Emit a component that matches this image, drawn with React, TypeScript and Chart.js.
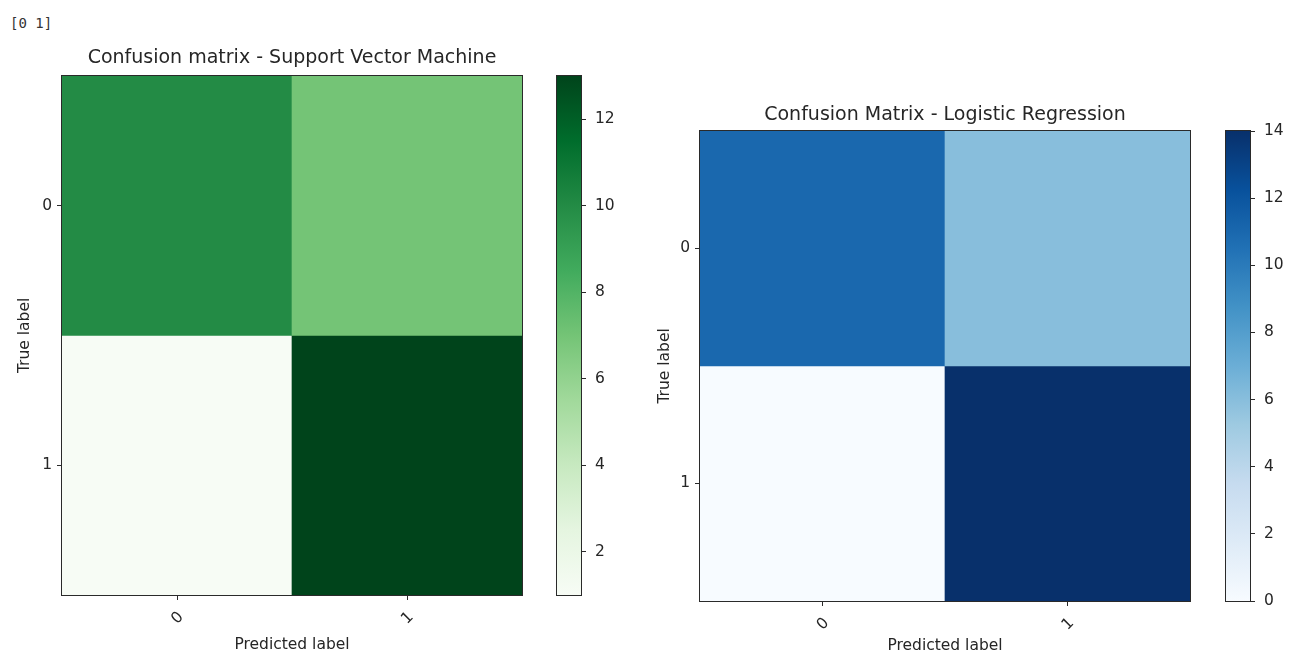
import React, { useEffect, useRef } from "react";
import { Chart, registerables } from "chart.js";

Chart.register(...registerables);
Chart.defaults.font.family = "'DejaVu Sans', sans-serif";

// ---------- data ----------
const predictedLabels = ["0", "1"];
const trueLabels = ["0", "1"];
const svmMatrix = [
  [10, 7],
  [1, 13],
];
const lrMatrix = [
  [11, 6],
  [0, 14],
];
const svmColorbarTicks = [2, 4, 6, 8, 10, 12];
const lrColorbarTicks = [0, 2, 4, 6, 8, 10, 12, 14];
const svmTitle = "Confusion matrix - Support Vector Machine";
const lrTitle = "Confusion Matrix - Logistic Regression";
const printedClasses = "[0 1]";

// ---------- colormaps ----------
const greens = ["#f7fcf5", "#e5f5e0", "#c7e9c0", "#a1d99b", "#74c476", "#41ab5d", "#238b45", "#006d2c", "#00441b"];
const blues = ["#f7fbff", "#deebf7", "#c6dbef", "#9ecae1", "#6baed6", "#4292c6", "#2171b5", "#08519c", "#08306b"];

const TEXT = "#262626";
const LINE = "#2a2a2a";

function hexToRgb(h: string) {
  const n = parseInt(h.slice(1), 16);
  return [(n >> 16) & 255, (n >> 8) & 255, n & 255];
}
function cmap(stops: string[], t: number) {
  const tt = Math.max(0, Math.min(1, t)) * (stops.length - 1);
  const i = Math.min(stops.length - 2, Math.floor(tt));
  const f = tt - i;
  const a = hexToRgb(stops[i]);
  const b = hexToRgb(stops[i + 1]);
  const c = a.map((v, k) => Math.round(v + (b[k] - v) * f));
  return `rgb(${c[0]},${c[1]},${c[2]})`;
}

const framePlugin = {
  id: "frame",
  afterDatasetsDraw(chart: any) {
    const a = chart.chartArea;
    const ctx = chart.ctx;
    ctx.save();
    ctx.strokeStyle = LINE;
    ctx.lineWidth = 1;
    ctx.strokeRect(Math.round(a.left) - 0.5, Math.round(a.top) - 0.5, Math.round(a.right - a.left) + 1, Math.round(a.bottom - a.top) + 1);
    ctx.restore();
  },
};

const tickFont = { size: 15.5 };

function matrixConfig(opts: {
  matrix: number[][];
  stops: string[];
  title: string;
  yWidth: number;
  xHeight: number;
  padRight: number;
  titlePadTop: number;
  titlePadBottom: number;
}): any {
  const flat = opts.matrix.flat();
  const vmin = Math.min(...flat);
  const vmax = Math.max(...flat);
  const datasets = trueLabels.map((_, r) => ({
    data: predictedLabels.map(() => [r - 0.5, r + 0.5]),
    backgroundColor: predictedLabels.map((__, c) => cmap(opts.stops, (opts.matrix[r][c] - vmin) / (vmax - vmin))),
    borderWidth: 0,
    grouped: false,
    barPercentage: 1,
    categoryPercentage: 1,
  }));
  return {
    type: "bar",
    data: { labels: predictedLabels, datasets },
    options: {
      responsive: false,
      animation: false,
      events: [],
      layout: { padding: { left: 0, right: opts.padRight, top: 0, bottom: 0 } },
      plugins: {
        legend: { display: false },
        tooltip: { enabled: false },
        title: {
          display: true,
          text: opts.title,
          fullSize: false,
          color: TEXT,
          font: { size: 19, weight: "normal" },
          padding: { top: opts.titlePadTop, bottom: opts.titlePadBottom },
        },
      },
      scales: {
        x: {
          type: "category",
          offset: true,
          grid: { display: true, offset: false, drawOnChartArea: false, drawTicks: true, tickLength: 5, color: LINE },
          border: { display: false },
          ticks: { minRotation: 45, maxRotation: 45, color: TEXT, font: tickFont, padding: 8, labelOffset: 4, autoSkip: false },
          title: { display: true, text: "Predicted label", color: TEXT, font: tickFont, padding: { top: 0, bottom: 0 } },
          afterFit(s: any) {
            s.height = opts.xHeight;
          },
        },
        y: {
          type: "linear",
          min: -0.5,
          max: 1.5,
          reverse: true,
          afterBuildTicks(s: any) {
            s.ticks = trueLabels.map((_, i) => ({ value: i }));
          },
          grid: { display: true, drawOnChartArea: false, drawTicks: true, tickLength: 5, color: LINE },
          border: { display: false },
          ticks: {
            color: TEXT,
            font: tickFont,
            padding: 5,
            autoSkip: false,
            callback: (v: number) => trueLabels[v] ?? "",
          },
          title: { display: true, text: "True label", color: TEXT, font: tickFont, padding: { top: 16, bottom: 0 } },
          afterFit(s: any) {
            s.width = opts.yWidth;
          },
        },
      },
    },
    plugins: [framePlugin],
  };
}

function colorbarConfig(opts: {
  matrix: number[][];
  stops: string[];
  ticks: number[];
  padLeft: number;
  padTop: number;
  padBottom: number;
  axisWidth: number;
}): any {
  const flat = opts.matrix.flat();
  const vmin = Math.min(...flat);
  const vmax = Math.max(...flat);
  return {
    type: "bar",
    data: {
      labels: ["colorbar"],
      datasets: [
        {
          data: [[vmin, vmax]],
          borderWidth: 0,
          barPercentage: 1,
          categoryPercentage: 1,
          backgroundColor: (c: any) => {
            const ch = c.chart;
            const a = ch.chartArea;
            if (!a) return opts.stops[0];
            const g = ch.ctx.createLinearGradient(0, a.bottom, 0, a.top);
            opts.stops.forEach((s, i) => g.addColorStop(i / (opts.stops.length - 1), s));
            return g;
          },
        },
      ],
    },
    options: {
      responsive: false,
      animation: false,
      events: [],
      layout: { padding: { left: opts.padLeft, right: 0, top: opts.padTop, bottom: opts.padBottom } },
      plugins: { legend: { display: false }, tooltip: { enabled: false }, title: { display: false } },
      scales: {
        x: { type: "category", display: false, offset: true },
        y: {
          type: "linear",
          position: "right",
          min: vmin,
          max: vmax,
          afterBuildTicks(s: any) {
            s.ticks = opts.ticks.map((v) => ({ value: v }));
          },
          grid: { display: true, drawOnChartArea: false, drawTicks: true, tickLength: 5, color: LINE },
          border: { display: false },
          ticks: { color: TEXT, font: tickFont, padding: 9, autoSkip: false },
          afterFit(s: any) {
            s.width = opts.axisWidth;
          },
        },
      },
    },
    plugins: [framePlugin],
  };
}

function ChartCanvas(props: { config: any; left: number; top: number; width: number; height: number }) {
  const ref = useRef<HTMLCanvasElement | null>(null);
  useEffect(() => {
    if (!ref.current) return;
    const chart = new Chart(ref.current, props.config);
    return () => chart.destroy();
  }, []);
  return (
    <canvas
      ref={ref}
      width={props.width}
      height={props.height}
      style={{ position: "absolute", left: props.left, top: props.top, width: props.width, height: props.height }}
    />
  );
}

export default function App() {
  return (
    <div
      style={{
        position: "fixed",
        left: 0,
        top: 0,
        width: 1295,
        height: 652,
        overflow: "hidden",
        background: "#ffffff",
      }}
    >
      <div
        style={{
          position: "absolute",
          left: 10,
          top: 13,
          fontFamily: "'DejaVu Sans Mono', monospace",
          fontSize: 14,
          color: "#333",
          lineHeight: "20px",
          whiteSpace: "pre",
        }}
      >
        {printedClasses}
      </div>
      <ChartCanvas
        left={0}
        top={30}
        width={540}
        height={624}
        config={matrixConfig({
          matrix: svmMatrix,
          stops: greens,
          title: svmTitle,
          yWidth: 62,
          xHeight: 59,
          padRight: 18,
          titlePadTop: 17,
          titlePadBottom: 6,
        })}
      />
      <ChartCanvas
        left={540}
        top={30}
        width={100}
        height={630}
        config={colorbarConfig({
          matrix: svmMatrix,
          stops: greens,
          ticks: svmColorbarTicks,
          padLeft: 17,
          padTop: 46,
          padBottom: 65,
          axisWidth: 59,
        })}
      />
      <ChartCanvas
        left={640}
        top={85}
        width={568}
        height={570}
        config={matrixConfig({
          matrix: lrMatrix,
          stops: blues,
          title: lrTitle,
          yWidth: 60,
          xHeight: 54,
          padRight: 18,
          titlePadTop: 19,
          titlePadBottom: 4,
        })}
      />
      <ChartCanvas
        left={1208}
        top={85}
        width={87}
        height={575}
        config={colorbarConfig({
          matrix: lrMatrix,
          stops: blues,
          ticks: lrColorbarTicks,
          padLeft: 18,
          padTop: 46,
          padBottom: 59,
          axisWidth: 45,
        })}
      />
    </div>
  );
}
